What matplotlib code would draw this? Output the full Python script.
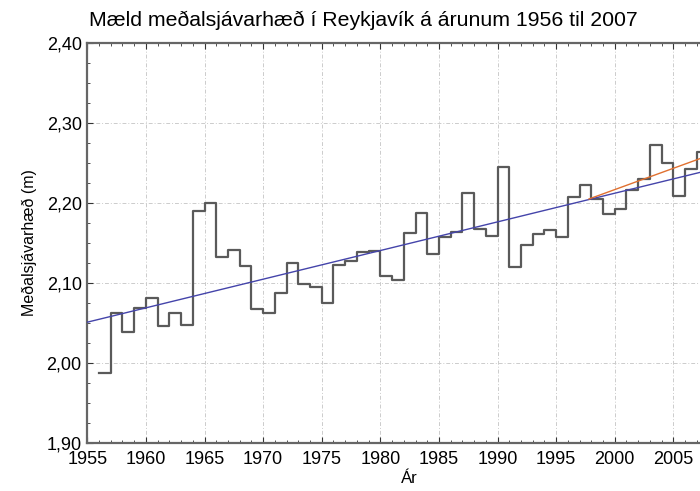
import matplotlib
matplotlib.use("Agg")
import matplotlib.pyplot as plt
from matplotlib.ticker import FixedLocator, FuncFormatter, MultipleLocator

plt.rcParams["font.family"] = ["Liberation Sans", "DejaVu Sans"]

years = list(range(1956, 2008))
sea_level = [
    1.988, 2.062, 2.039, 2.069, 2.081, 2.046, 2.063, 2.048, 2.190, 2.200,
    2.133, 2.141, 2.121, 2.067, 2.063, 2.088, 2.125, 2.099, 2.095, 2.075,
    2.122, 2.127, 2.139, 2.140, 2.109, 2.104, 2.162, 2.188, 2.136, 2.157,
    2.164, 2.213, 2.168, 2.159, 2.245, 2.120, 2.147, 2.161, 2.166, 2.157,
    2.208, 2.222, 2.205, 2.186, 2.192, 2.216, 2.230, 2.273, 2.250, 2.209,
    2.243, 2.264,
]
year_ticks = [1955, 1960, 1965, 1970, 1975, 1980, 1985, 1990, 1995, 2000, 2005]

trend_all_years = [1955, 2010]
trend_all_vals = [2.051, 2.248]
trend_recent_years = [1997.8, 2010]
trend_recent_vals = [2.205, 2.270]

fig = plt.figure(figsize=(7.0, 4.91), dpi=100)
ax = fig.add_axes([0.1247, 0.0978, 0.921, 0.8147])

# steps run from each year to the next
xs = years + [years[-1] + 1]
ys = sea_level + [sea_level[-1]]
ax.step(xs, ys, where="post", color="#5a5a5a", linewidth=1.6, zorder=3)
ax.plot(trend_all_years, trend_all_vals, color="#4444aa", linewidth=1.0, zorder=4)
ax.plot(trend_recent_years, trend_recent_vals, color="#e07030", linewidth=1.0, zorder=4)

ax.set_xlim(1955, 2010)
ax.set_ylim(1.90, 2.40)
ax.xaxis.set_major_locator(FixedLocator(year_ticks))
ax.xaxis.set_minor_locator(MultipleLocator(1))
ax.yaxis.set_major_locator(MultipleLocator(0.1))
ax.yaxis.set_minor_locator(MultipleLocator(0.025))
ax.yaxis.set_major_formatter(FuncFormatter(lambda v, p: f"{v:.2f}".replace(".", ",")))

ax.tick_params(which="both", direction="in", top=True, right=True,
               colors="#333333", labelcolor="black", labelsize=13)
ax.tick_params(which="major", length=4, width=0.8)
ax.tick_params(which="minor", length=2.5, width=0.6)
ax.tick_params(axis="x", which="major", pad=6)
ax.tick_params(axis="y", which="major", pad=4)
ax.grid(which="major", color="#cccccc", linestyle=(0, (4, 2, 1, 2)), linewidth=0.7)
for s in ax.spines.values():
    s.set_color("#666666")
    s.set_linewidth(1.6)

ax.set_xlabel("Ár", fontsize=12, labelpad=2)
ax.set_ylabel("Meðalsjávarhæð (m)", fontsize=11.5, labelpad=7)
fig.text(0.519, 0.958, "Mæld meðalsjávarhæð í Reykjavík á árunum 1956 til 2007",
         ha="center", va="center", fontsize=15.3)

fig.savefig("out.png", dpi=100, facecolor="white")
